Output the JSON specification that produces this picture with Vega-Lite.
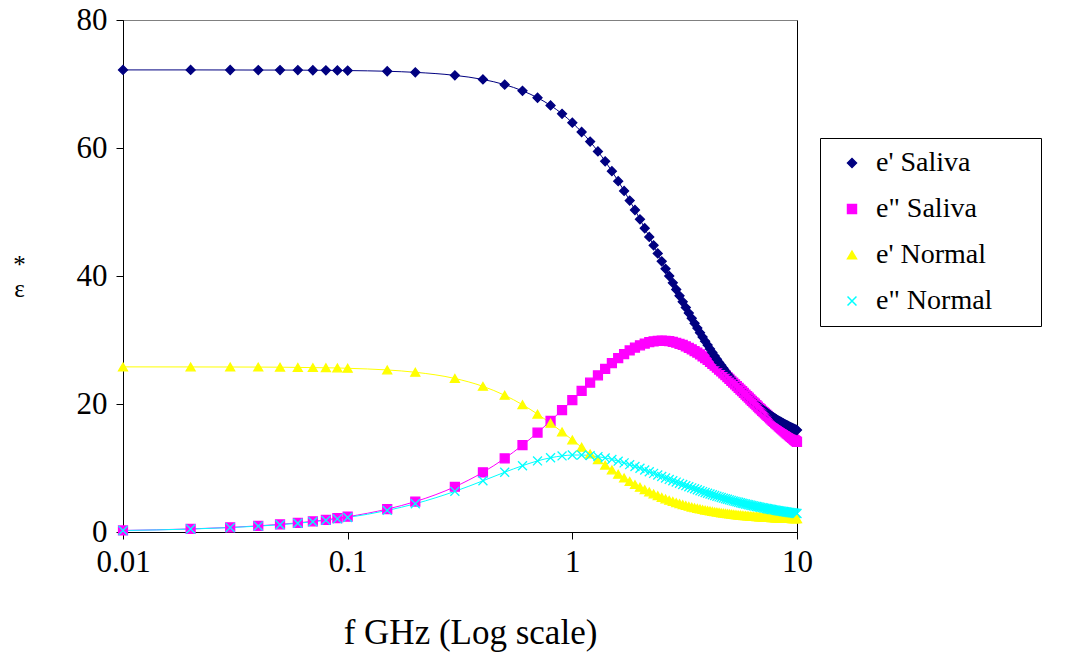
{
  "$schema": "https://vega.github.io/schema/vega-lite/v6.json",
  "autosize": {"type": "none"},
  "padding": {"left": 123, "top": 20, "right": 275, "bottom": 127},
  "width": 674,
  "height": 512,
  "background": "white",
  "config": {
    "view": {"stroke": "#000000", "strokeWidth": 1},
    "font": "Liberation Serif"
  },
  "data": {
    "values": [
      {"f": 0.01, "a": 72.2, "b": 0.24, "c": 25.8, "d": 0.23},
      {"f": 0.02, "a": 72.2, "b": 0.48, "c": 25.79, "d": 0.46},
      {"f": 0.03, "a": 72.19, "b": 0.72, "c": 25.78, "d": 0.69},
      {"f": 0.04, "a": 72.18, "b": 0.96, "c": 25.77, "d": 0.92},
      {"f": 0.05, "a": 72.18, "b": 1.2, "c": 25.75, "d": 1.14},
      {"f": 0.06, "a": 72.17, "b": 1.43, "c": 25.72, "d": 1.37},
      {"f": 0.07, "a": 72.15, "b": 1.67, "c": 25.69, "d": 1.6},
      {"f": 0.08, "a": 72.14, "b": 1.91, "c": 25.66, "d": 1.82},
      {"f": 0.09, "a": 72.12, "b": 2.15, "c": 25.63, "d": 2.05},
      {"f": 0.1, "a": 72.1, "b": 2.39, "c": 25.58, "d": 2.27},
      {"f": 0.15, "a": 71.99, "b": 3.58, "c": 25.32, "d": 3.37},
      {"f": 0.2, "a": 71.82, "b": 4.75, "c": 24.96, "d": 4.42},
      {"f": 0.3, "a": 71.35, "b": 7.07, "c": 23.99, "d": 6.35},
      {"f": 0.4, "a": 70.71, "b": 9.33, "c": 22.76, "d": 8.0},
      {"f": 0.5, "a": 69.9, "b": 11.5, "c": 21.36, "d": 9.34},
      {"f": 0.6, "a": 68.94, "b": 13.57, "c": 19.89, "d": 10.36},
      {"f": 0.7, "a": 67.85, "b": 15.53, "c": 18.42, "d": 11.11},
      {"f": 0.8, "a": 66.65, "b": 17.36, "c": 16.99, "d": 11.6},
      {"f": 0.9, "a": 65.34, "b": 19.06, "c": 15.64, "d": 11.89},
      {"f": 1.0, "a": 63.95, "b": 20.62, "c": 14.39, "d": 12.03},
      {"f": 1.1, "a": 62.5, "b": 22.04, "c": 13.24, "d": 12.03},
      {"f": 1.2, "a": 61.0, "b": 23.33, "c": 12.21, "d": 11.94},
      {"f": 1.3, "a": 59.47, "b": 24.48, "c": 11.28, "d": 11.78},
      {"f": 1.4, "a": 57.92, "b": 25.49, "c": 10.44, "d": 11.58},
      {"f": 1.5, "a": 56.37, "b": 26.38, "c": 9.69, "d": 11.34},
      {"f": 1.6, "a": 54.82, "b": 27.15, "c": 9.02, "d": 11.07},
      {"f": 1.7, "a": 53.29, "b": 27.81, "c": 8.43, "d": 10.8},
      {"f": 1.8, "a": 51.78, "b": 28.36, "c": 7.89, "d": 10.52},
      {"f": 1.9, "a": 50.31, "b": 28.81, "c": 7.41, "d": 10.24},
      {"f": 2.0, "a": 48.86, "b": 29.17, "c": 6.99, "d": 9.96},
      {"f": 2.1, "a": 47.46, "b": 29.45, "c": 6.6, "d": 9.68},
      {"f": 2.2, "a": 46.1, "b": 29.66, "c": 6.25, "d": 9.42},
      {"f": 2.3, "a": 44.79, "b": 29.8, "c": 5.94, "d": 9.16},
      {"f": 2.4, "a": 43.52, "b": 29.88, "c": 5.66, "d": 8.91},
      {"f": 2.5, "a": 42.3, "b": 29.9, "c": 5.4, "d": 8.67},
      {"f": 2.6, "a": 41.13, "b": 29.88, "c": 5.17, "d": 8.44},
      {"f": 2.7, "a": 40.0, "b": 29.81, "c": 4.95, "d": 8.22},
      {"f": 2.8, "a": 38.93, "b": 29.71, "c": 4.76, "d": 8.0},
      {"f": 2.9, "a": 37.89, "b": 29.57, "c": 4.58, "d": 7.8},
      {"f": 3.0, "a": 36.91, "b": 29.41, "c": 4.42, "d": 7.6},
      {"f": 3.1, "a": 35.97, "b": 29.22, "c": 4.27, "d": 7.42},
      {"f": 3.2, "a": 35.07, "b": 29.01, "c": 4.13, "d": 7.24},
      {"f": 3.3, "a": 34.21, "b": 28.78, "c": 4.01, "d": 7.07},
      {"f": 3.4, "a": 33.39, "b": 28.54, "c": 3.89, "d": 6.9},
      {"f": 3.5, "a": 32.6, "b": 28.28, "c": 3.78, "d": 6.75},
      {"f": 3.6, "a": 31.86, "b": 28.02, "c": 3.68, "d": 6.6},
      {"f": 3.7, "a": 31.14, "b": 27.74, "c": 3.59, "d": 6.45},
      {"f": 3.8, "a": 30.46, "b": 27.46, "c": 3.5, "d": 6.31},
      {"f": 3.9, "a": 29.82, "b": 27.17, "c": 3.42, "d": 6.18},
      {"f": 4.0, "a": 29.2, "b": 26.88, "c": 3.35, "d": 6.05},
      {"f": 4.1, "a": 28.61, "b": 26.58, "c": 3.28, "d": 5.93},
      {"f": 4.2, "a": 28.04, "b": 26.28, "c": 3.21, "d": 5.82},
      {"f": 4.3, "a": 27.51, "b": 25.98, "c": 3.15, "d": 5.7},
      {"f": 4.4, "a": 26.99, "b": 25.69, "c": 3.09, "d": 5.59},
      {"f": 4.5, "a": 26.5, "b": 25.39, "c": 3.04, "d": 5.49},
      {"f": 4.6, "a": 26.04, "b": 25.09, "c": 2.99, "d": 5.39},
      {"f": 4.7, "a": 25.59, "b": 24.79, "c": 2.94, "d": 5.29},
      {"f": 4.8, "a": 25.16, "b": 24.5, "c": 2.9, "d": 5.2},
      {"f": 4.9, "a": 24.75, "b": 24.21, "c": 2.85, "d": 5.11},
      {"f": 5.0, "a": 24.36, "b": 23.92, "c": 2.81, "d": 5.03},
      {"f": 5.1, "a": 23.99, "b": 23.63, "c": 2.78, "d": 4.94},
      {"f": 5.2, "a": 23.63, "b": 23.35, "c": 2.74, "d": 4.86},
      {"f": 5.3, "a": 23.28, "b": 23.07, "c": 2.71, "d": 4.79},
      {"f": 5.4, "a": 22.96, "b": 22.8, "c": 2.67, "d": 4.71},
      {"f": 5.5, "a": 22.64, "b": 22.53, "c": 2.64, "d": 4.64},
      {"f": 5.6, "a": 22.34, "b": 22.26, "c": 2.62, "d": 4.57},
      {"f": 5.7, "a": 22.05, "b": 22.0, "c": 2.59, "d": 4.5},
      {"f": 5.8, "a": 21.77, "b": 21.74, "c": 2.56, "d": 4.44},
      {"f": 5.9, "a": 21.5, "b": 21.48, "c": 2.54, "d": 4.38},
      {"f": 6.0, "a": 21.25, "b": 21.23, "c": 2.51, "d": 4.32},
      {"f": 6.1, "a": 21.0, "b": 20.98, "c": 2.49, "d": 4.26},
      {"f": 6.2, "a": 20.76, "b": 20.74, "c": 2.47, "d": 4.2},
      {"f": 6.3, "a": 20.54, "b": 20.5, "c": 2.45, "d": 4.14},
      {"f": 6.4, "a": 20.32, "b": 20.27, "c": 2.43, "d": 4.09},
      {"f": 6.5, "a": 20.11, "b": 20.04, "c": 2.41, "d": 4.04},
      {"f": 6.6, "a": 19.9, "b": 19.81, "c": 2.39, "d": 3.99},
      {"f": 6.7, "a": 19.71, "b": 19.59, "c": 2.38, "d": 3.94},
      {"f": 6.8, "a": 19.52, "b": 19.37, "c": 2.36, "d": 3.89},
      {"f": 6.9, "a": 19.34, "b": 19.15, "c": 2.34, "d": 3.85},
      {"f": 7.0, "a": 19.16, "b": 18.94, "c": 2.33, "d": 3.8},
      {"f": 7.1, "a": 19.0, "b": 18.73, "c": 2.31, "d": 3.76},
      {"f": 7.2, "a": 18.83, "b": 18.53, "c": 2.3, "d": 3.72},
      {"f": 7.3, "a": 18.68, "b": 18.33, "c": 2.29, "d": 3.67},
      {"f": 7.4, "a": 18.53, "b": 18.13, "c": 2.27, "d": 3.63},
      {"f": 7.5, "a": 18.38, "b": 17.94, "c": 2.26, "d": 3.6},
      {"f": 7.6, "a": 18.24, "b": 17.75, "c": 2.25, "d": 3.56},
      {"f": 7.7, "a": 18.1, "b": 17.56, "c": 2.24, "d": 3.52},
      {"f": 7.8, "a": 17.97, "b": 17.38, "c": 2.23, "d": 3.49},
      {"f": 7.9, "a": 17.84, "b": 17.2, "c": 2.22, "d": 3.45},
      {"f": 8.0, "a": 17.72, "b": 17.03, "c": 2.21, "d": 3.42},
      {"f": 8.1, "a": 17.6, "b": 16.85, "c": 2.2, "d": 3.38},
      {"f": 8.2, "a": 17.49, "b": 16.68, "c": 2.19, "d": 3.35},
      {"f": 8.3, "a": 17.37, "b": 16.51, "c": 2.18, "d": 3.32},
      {"f": 8.4, "a": 17.27, "b": 16.35, "c": 2.17, "d": 3.29},
      {"f": 8.5, "a": 17.16, "b": 16.19, "c": 2.16, "d": 3.26},
      {"f": 8.6, "a": 17.06, "b": 16.03, "c": 2.15, "d": 3.23},
      {"f": 8.7, "a": 16.96, "b": 15.87, "c": 2.14, "d": 3.2},
      {"f": 8.8, "a": 16.87, "b": 15.72, "c": 2.14, "d": 3.18},
      {"f": 8.9, "a": 16.77, "b": 15.57, "c": 2.13, "d": 3.15},
      {"f": 9.0, "a": 16.68, "b": 15.42, "c": 2.12, "d": 3.12},
      {"f": 9.1, "a": 16.6, "b": 15.28, "c": 2.12, "d": 3.1},
      {"f": 9.2, "a": 16.51, "b": 15.13, "c": 2.11, "d": 3.07},
      {"f": 9.3, "a": 16.43, "b": 14.99, "c": 2.1, "d": 3.05},
      {"f": 9.4, "a": 16.35, "b": 14.85, "c": 2.1, "d": 3.02},
      {"f": 9.5, "a": 16.27, "b": 14.72, "c": 2.09, "d": 3.0},
      {"f": 9.6, "a": 16.2, "b": 14.58, "c": 2.08, "d": 2.98},
      {"f": 9.7, "a": 16.12, "b": 14.45, "c": 2.08, "d": 2.96},
      {"f": 9.8, "a": 16.05, "b": 14.32, "c": 2.07, "d": 2.93},
      {"f": 9.9, "a": 15.98, "b": 14.2, "c": 2.07, "d": 2.91},
      {"f": 10.0, "a": 15.92, "b": 14.07, "c": 2.06, "d": 2.89}
    ]
  },
  "transform": [{"fold": ["a", "b", "c", "d"], "as": ["k", "v"]}],
  "encoding": {
    "x": {
      "field": "f",
      "type": "quantitative",
      "scale": {"type": "log", "domain": [0.01, 10], "nice": false},
      "axis": {
        "title": "f GHz (Log scale)",
        "values": [0.01, 0.1, 1, 10],
        "format": "~g",
        "grid": false,
        "domainColor": "#000000",
        "tickColor": "#000000",
        "tickSize": 7,
        "labelFont": "Liberation Serif",
        "labelFontSize": 31,
        "labelColor": "#000000",
        "labelPadding": 8,
        "labelFlush": false,
        "titleFont": "Liberation Serif",
        "titleFontSize": 35,
        "titleFontWeight": "normal",
        "titleColor": "#000000",
        "titlePadding": 38,
        "titleX": 347
      }
    },
    "y": {
      "field": "v",
      "type": "quantitative",
      "scale": {"domain": [0, 80], "nice": false, "zero": true},
      "axis": {
        "title": [" *", "ε"],
        "values": [0, 20, 40, 60, 80],
        "grid": true,
        "gridColor": "#808080",
        "gridOpacity": {"condition": {"test": "datum.value === 80", "value": 1}, "value": 0},
        "domainColor": "#000000",
        "tickColor": "#000000",
        "tickSize": 7,
        "labelFont": "Liberation Serif",
        "labelFontSize": 31,
        "labelColor": "#000000",
        "labelPadding": 9,
        "titleFont": "Liberation Serif",
        "titleFontSize": 25,
        "titleFontWeight": "normal",
        "titleColor": "#000000",
        "titleAngle": 0,
        "titleAlign": "center",
        "titleBaseline": "middle",
        "titleLineHeight": 24,
        "titleX": -104,
        "titleY": 244
      }
    }
  },
  "layer": [
    {
      "mark": {"type": "line", "strokeWidth": 1, "interpolate": "monotone"},
      "encoding": {
        "stroke": {
          "field": "k",
          "type": "nominal",
          "scale": {"domain": ["a", "b", "c", "d"], "range": ["#000080", "#FF00FF", "#FFFF00", "#00FFFF"]},
          "legend": {
            "title": "\u00a0",
            "titleOrient": "right",
            "titlePadding": 38,
            "titleFontSize": 12,
            "orient": "none",
            "legendX": 697,
            "legendY": 118,
            "strokeColor": "#000000",
            "fillColor": "#FFFFFF",
            "padding": 11,
            "symbolOffset": 7,
            "rowPadding": 18,
            "labelOffset": 10,
            "labelFont": "Liberation Serif",
            "labelFontSize": 28,
            "labelColor": "#000000",
            "labelLimit": 400,
            "labelExpr": "datum.label === 'a' ? \"e' Saliva\" : datum.label === 'b' ? 'e\" Saliva' : datum.label === 'c' ? \"e' Normal\" : 'e\" Normal'"
          }
        },
        "detail": {"field": "k"}
      }
    },
    {
      "mark": {"type": "point", "filled": true, "opacity": 1, "strokeWidth": 1.3},
      "encoding": {
        "fill": {
          "field": "k",
          "type": "nominal",
          "scale": {"domain": ["a", "b", "c", "d"], "range": ["#000080", "#FF00FF", "#FFFF00", "#00FFFF"]},
          "legend": null
        },
        "stroke": {
          "field": "k",
          "type": "nominal",
          "legend": null
        },
        "shape": {
          "field": "k",
          "type": "nominal",
          "scale": {"domain": ["a", "b", "c", "d"], "range": ["diamond", "square", "triangle-up", "M-1,-1L1,1M-1,1L1,-1"]},
          "legend": null
        },
        "size": {
          "field": "k",
          "type": "nominal",
          "scale": {"domain": ["a", "b", "c", "d"], "range": [80, 80, 100, 70]},
          "legend": null
        }
      }
    }
  ]
}
